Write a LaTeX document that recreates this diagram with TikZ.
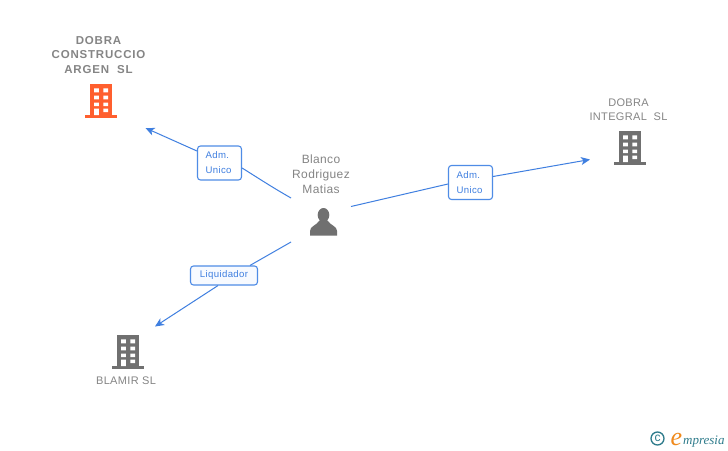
\documentclass[tikz,border=0pt]{standalone}
\usepackage{fontspec}
\setmainfont{Liberation Sans}
\newfontfamily\logofont{Liberation Serif}
\usetikzlibrary{arrows.meta,calc}
\definecolor{linkblue}{HTML}{3F7FE0}
\definecolor{boxline}{HTML}{4F8CE6}
\definecolor{boxfill}{HTML}{F7FAFF}
\definecolor{txtgrey}{HTML}{858585}
\definecolor{icongrey}{HTML}{707070}
\definecolor{orgorange}{HTML}{FF5F2E}
\definecolor{logoteal}{HTML}{2F7C8C}
\definecolor{logoorange}{HTML}{F08A1D}
\tikzset{
 x=1pt,y=-1pt,
 orgbold/.style={font=\fontsize{11.5}{14.5}\selectfont\bfseries\addfontfeature{LetterSpace=7},text=txtgrey,align=center,inner sep=0pt},
 orgtext/.style={font=\fontsize{11}{14.5}\selectfont\addfontfeature{LetterSpace=3},text=txtgrey,align=center,inner sep=0pt},
 rolebox/.style={draw=boxline,line width=1.1pt,rounded corners=3pt,fill=boxfill,text=linkblue,font=\fontsize{9.6}{15}\selectfont\addfontfeature{LetterSpace=4},align=left,inner sep=0pt},
 link/.style={draw=linkblue,line width=1pt},
 linkend/.style={link,-{Stealth[length=9pt,width=8pt,inset=2.5pt]}},
}
% building icon: centre x, top y, colour
\newcommand{\bldg}[3]{%
 \begin{scope}[shift={(#1,#2)}]
 \fill[#3] (-11,0) rectangle (11,31);
 \fill[#3] (-16,31) rectangle (16,34);
 \fill[white] (-7,4.3) rectangle (-2.2,8.3) (2.3,4.3) rectangle (7,8.3);
 \fill[white] (-7,11.5) rectangle (-2.2,15.3) (2.3,11.5) rectangle (7,15.3);
 \fill[white] (-7,18.5) rectangle (-2.2,22) (2.3,18.5) rectangle (7,22);
 \fill[white] (-7,24.5) rectangle (-2.2,31) (2.3,24.5) rectangle (7,28);
 \end{scope}}
\begin{document}
\begin{tikzpicture}
\useasboundingbox (0,0) rectangle (728,450);
\fill[white] (0,0) rectangle (728,450);
% icons
\bldg{101}{84}{orgorange}
\bldg{630}{131}{icongrey}
\bldg{128}{335}{icongrey}
% person
\fill[icongrey] (323.5,215) ellipse (5.8 and 7);
\fill[icongrey] (310,235.5) -- (310,231) .. controls (310,226) and (316,226) .. (320,220) -- (327,220) .. controls (331,226) and (337,226) .. (337,231) -- (337,235.5) -- cycle;
% labels
\node[orgbold] (org1) at (98.5,55) {DOBRA\\CONSTRUCCIO\\ARGEN\ \ SL};
\node[orgtext] (org2) at (628.5,109.5) {DOBRA\\INTEGRAL\ \ SL};
\node[orgtext] (org3) at (126,381) {BLAMIR SL};
\node[orgtext,font=\fontsize{12}{15}\selectfont\addfontfeature{LetterSpace=3}] (per) at (321,174) {Blanco\\Rodriguez\\Matias};
% role boxes
\node[rolebox,minimum width=44pt,minimum height=34pt,text width=28pt,fill=white] (r1) at (219.5,163) {\raisebox{-2pt}{Adm.}\\\raisebox{-2pt}{Unico}};
\node[rolebox,minimum width=44pt,minimum height=34pt,text width=28pt,fill=white] (r2) at (470.5,182.5) {\raisebox{-2pt}{Adm.}\\\raisebox{-2pt}{Unico}};
\node[rolebox,minimum width=67pt,minimum height=19pt,align=center] (r3) at (224,275.5) {\raisebox{-1.5pt}{Liquidador}};
% free ends
\coordinate (s1) at (291,198);
\coordinate (s2) at (351,206.5);
\coordinate (s3) at (291,242);
\coordinate (e1) at (145.5,128);
\coordinate (e2) at (590,159.5);
\coordinate (e3) at (155,326.5);
% connectors
\draw[link] (s1) .. controls (270,186) and (255,176) .. ($(r1.east)+(0,5)$);
\draw[linkend] ($(r1.west)+(0,-12)$) -- (e1);
\draw[link] (s2) -- ($(r2.west)+(0,1.5)$);
\draw[linkend] ($(r2.east)+(0,-6)$) -- (e2);
\draw[link] (s3) -- ($(r3.north)+(26,0)$);
\draw[linkend] ($(r3.south)+(-6,0)$) -- (e3);
% logo
\node[inner sep=0pt,circle,draw=logoteal,line width=1.3pt,minimum size=13pt,text=logoteal,font=\fontsize{12}{12}\selectfont] (cpy) at (657.5,438.5) {c};
\node[inner sep=0pt,anchor=base west,text=logoorange,font=\fontsize{26}{26}\logofont\itshape] (loge) at (670.5,445) {e};
\node[inner sep=0pt,anchor=base west,text=logoteal,font=\fontsize{13}{13}\logofont\itshape] (logt) at (683,444) {mpresia};
\end{tikzpicture}
\end{document}
